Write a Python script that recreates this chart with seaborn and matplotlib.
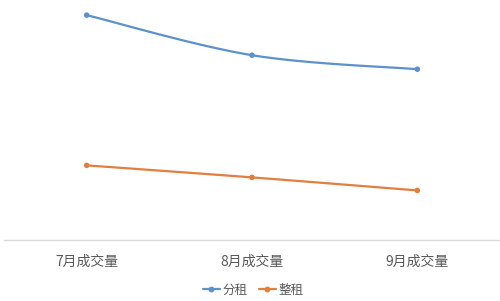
import numpy as np
import pandas as pd
import matplotlib
matplotlib.use("Agg")
import matplotlib.pyplot as plt
from matplotlib.lines import Line2D
import seaborn as sns

months = ["7月成交量", "8月成交量", "9月成交量"]
shared_rent = [225, 185, 171]   # 分租
whole_rent = [75, 63, 50]       # 整租
series_names = ["分租", "整租"]
colors = {"分租": "#5E90CC", "整租": "#E27F3E"}

sns.set_theme(style="white")
plt.rcParams["font.family"] = ["Noto Sans CJK SC", "DejaVu Sans"]


def smooth(xs, ys, n=40):
    """Catmull-Rom curve through the points, like a smoothed line chart."""
    xs = np.asarray(xs, float)
    ys = np.asarray(ys, float)
    px = np.concatenate([[xs[0]], xs, [xs[-1]]])
    py = np.concatenate([[ys[0]], ys, [ys[-1]]])
    ox, oy = [], []
    for i in range(1, len(px) - 2):
        t = np.linspace(0, 1, n, endpoint=(i == len(px) - 3))
        for arr, out in ((px, ox), (py, oy)):
            p0, p1, p2, p3 = arr[i - 1], arr[i], arr[i + 1], arr[i + 2]
            out.extend(0.5 * ((2 * p1) + (-p0 + p2) * t
                              + (2 * p0 - 5 * p1 + 4 * p2 - p3) * t ** 2
                              + (-p0 + 3 * p1 - 3 * p2 + p3) * t ** 3))
    return np.array(ox), np.array(oy)


pos = np.arange(len(months))
points = pd.DataFrame({
    "x": np.concatenate([pos, pos]),
    "value": shared_rent + whole_rent,
    "series": [series_names[0]] * 3 + [series_names[1]] * 3,
})
curves = []
for name, vals in zip(series_names, [shared_rent, whole_rent]):
    cx, cy = smooth(pos, vals)
    curves.append(pd.DataFrame({"x": cx, "value": cy, "series": name}))
curves = pd.concat(curves, ignore_index=True)

fig = plt.figure(figsize=(5.0, 3.01), dpi=100)
ax = fig.add_axes([0.008, 0.201, 0.992, 0.782])

sns.lineplot(data=curves, x="x", y="value", hue="series", palette=colors,
             linewidth=1.6, sort=False, estimator=None, legend=False, ax=ax)
sns.scatterplot(data=points, x="x", y="value", hue="series", palette=colors,
                s=16, linewidth=0, legend=False, ax=ax, zorder=3)

ax.set_xlim(-0.5, 2.5)
ax.set_ylim(0, 235)
ax.set_xticks(pos)
ax.set_xticklabels(months, fontsize=10, color="#595959")
ax.tick_params(axis="x", length=0, pad=10.5)
ax.set_yticks([])
ax.set_xlabel("")
ax.set_ylabel("")
for side in ["top", "left", "right"]:
    ax.spines[side].set_visible(False)
ax.spines["bottom"].set_color("#D9D9D9")
ax.spines["bottom"].set_linewidth(1.0)

handles = [Line2D([0], [0], color=colors[n], lw=1.6, marker="o", markersize=3.2)
           for n in series_names]
fig.legend(handles, series_names, loc="center", bbox_to_anchor=(0.506, 0.036),
           ncol=2, frameon=False, fontsize=9, handlelength=1.35,
           handletextpad=0.2, columnspacing=0.9, labelcolor="#595959")

fig.savefig("out.png", dpi=100, facecolor="white")
